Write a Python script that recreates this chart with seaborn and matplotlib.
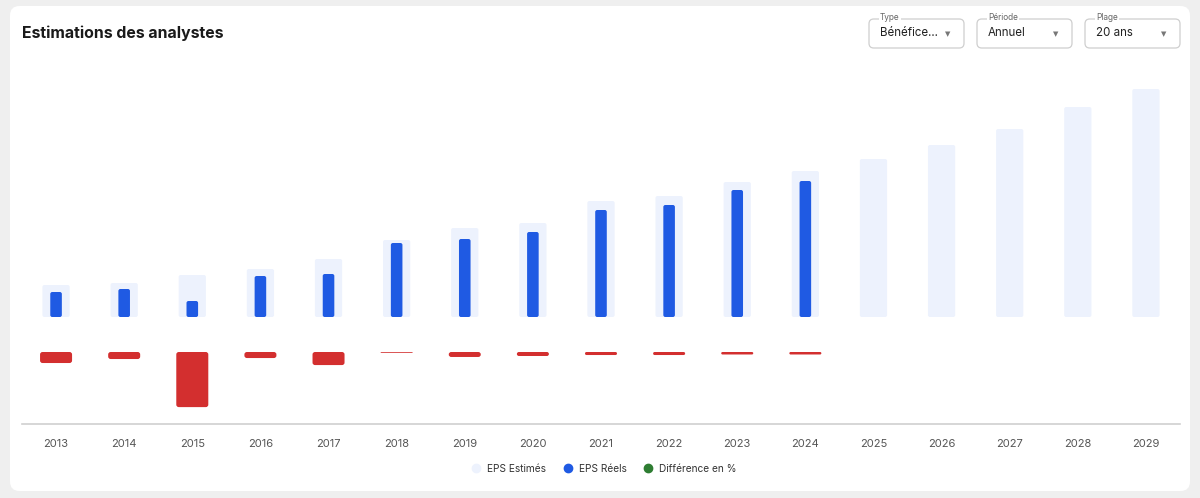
import numpy as np
import pandas as pd
import seaborn as sns
import matplotlib.pyplot as plt
from matplotlib.patches import FancyBboxPatch
from matplotlib.lines import Line2D

sns.set_theme(style="white")
plt.rcParams["font.family"] = ["Inter", "DejaVu Sans"]

years = [str(y) for y in range(2013, 2030)]
eps_est = [1.60, 1.70, 2.10, 2.40, 2.90, 3.85, 4.45, 4.70, 5.80, 6.05, 6.75, 7.30,
           7.90, 8.60, 9.40, 10.50, 11.40]
eps_real = [1.25, 1.40, 0.80, 2.05, 2.15, 3.70, 3.90, 4.25, 5.35, 5.60, 6.35, 6.80]
diff_pct = [-12.4, -7.9, -62.0, -6.8, -14.7, -0.9, -5.6, -4.5, -3.4, -3.4, -2.8, -2.8]
real_years = years[:len(eps_real)]

c_est = "#edf2fd"
c_real = "#1f5ae3"
c_diff = "#d32f2f"
c_green = "#2e7d32"

W, H = 1200, 498
fig = plt.figure(figsize=(12, 4.98), dpi=100)
fig.patch.set_facecolor("#efefef")

# white card behind everything
card = FancyBboxPatch((10 / W, 7 / H), 1180 / W, 485 / H,
                      boxstyle="round,pad=0,rounding_size=0.008",
                      transform=fig.transFigure, facecolor="white", edgecolor="none",
                      mutation_aspect=W / H, zorder=-10)
fig.patches.append(card)

left, right = 22 / W, 1180 / W
ax = fig.add_axes([left, 1 - 317 / H, right - left, (317 - 80) / H])
ax2 = fig.add_axes([left, 1 - 424 / H, right - left, (424 - 352) / H])
for a in (ax, ax2):
    a.set_facecolor("none")
    a.set_zorder(1)

df_est = pd.DataFrame({"year": years, "eps": eps_est})
df_real = pd.DataFrame({"year": real_years, "eps": eps_real})
df_diff = pd.DataFrame({"year": real_years, "diff": diff_pct})

sns.barplot(data=df_est, x="year", y="eps", order=years, color=c_est, saturation=1,
            width=0.40, ax=ax)
sns.barplot(data=df_real, x="year", y="eps", order=years, color=c_real, saturation=1,
            width=0.17, ax=ax)
sns.barplot(data=df_diff, x="year", y="diff", order=years, color=c_diff, saturation=1,
            width=0.47, ax=ax2)

ax.set_xlim(-0.5, len(years) - 0.5)
ax.set_ylim(0, 11.85)
ax.set_axis_off()

ax2.set_xlim(-0.5, len(years) - 0.5)
ax2.set_ylim(-81, 0)
ax2.set_xlabel("")
ax2.set_ylabel("")
ax2.set_yticks([])
for s in ("top", "left", "right"):
    ax2.spines[s].set_visible(False)
ax2.spines["bottom"].set_color("#d0d0d0")
ax2.spines["bottom"].set_linewidth(1.2)
ax2.tick_params(axis="x", length=0, pad=11, labelsize=8, labelcolor="#555555")


def round_bars(a, radius_px=2.5):
    # swap the seaborn rectangles for rounded ones of the same size
    bbox = a.get_window_extent()
    x0, x1 = a.get_xlim()
    y0, y1 = a.get_ylim()
    xpp = (x1 - x0) / bbox.width
    ypp = (y1 - y0) / bbox.height
    for p in list(a.patches):
        x, y = p.get_x(), p.get_y()
        w, h = p.get_width(), p.get_height()
        if h == 0 or np.isnan(h):
            p.remove()
            continue
        if h < 0:
            y, h = y + h, -h
        r_px = min(radius_px, w / xpp / 2, h / ypp / 2)
        fb = FancyBboxPatch((x, y), w, h,
                            boxstyle=f"round,pad=0,rounding_size={r_px * xpp}",
                            mutation_aspect=ypp / xpp, facecolor=p.get_facecolor(),
                            edgecolor="none", linewidth=0)
        p.remove()
        a.add_patch(fb)


round_bars(ax, 2.0)
round_bars(ax2, 2.5)

# title
fig.text(22 / W, 1 - 33 / H, "Estimations des analystes", fontsize=11.4,
         fontweight="bold", color="#1a1a1a", va="center", ha="left")

# dropdowns
dropdowns = [("Type", "Bénéfice...", 869), ("Période", "Annuel", 977), ("Plage", "20 ans", 1085)]
for label, value, x0 in dropdowns:
    box = FancyBboxPatch((x0 / W, 1 - 48 / H), 95 / W, 29 / H,
                         boxstyle="round,pad=0,rounding_size=0.004",
                         transform=fig.transFigure, facecolor="white",
                         edgecolor="#cfcfcf", linewidth=0.9, mutation_aspect=W / H)
    fig.patches.append(box)
    fig.text((x0 + 11) / W, 1 - 18 / H, label, fontsize=6, color="#666666",
             va="center", ha="left",
             bbox=dict(facecolor="white", edgecolor="none", pad=1))
    fig.text((x0 + 11) / W, 1 - 33.5 / H, value, fontsize=8.3, color="#222222",
             va="center", ha="left")
    fig.text((x0 + 79) / W, 1 - 34 / H, "▼", fontsize=5, color="#777777",
             va="center", ha="center", family="DejaVu Sans")

# legend
handles = [
    Line2D([], [], marker="o", linestyle="", markersize=6, color=c_est),
    Line2D([], [], marker="o", linestyle="", markersize=6, color=c_real),
    Line2D([], [], marker="o", linestyle="", markersize=6, color=c_green),
]
fig.legend(handles, ["EPS Estimés", "EPS Réels", "Différence en %"], loc="center",
           bbox_to_anchor=(0.501, 1 - 469 / H), ncol=3, frameon=False, fontsize=7.3,
           handletextpad=0.1, columnspacing=1.1, labelcolor="#333333")

fig.savefig("out.png", dpi=100, facecolor=fig.get_facecolor())
